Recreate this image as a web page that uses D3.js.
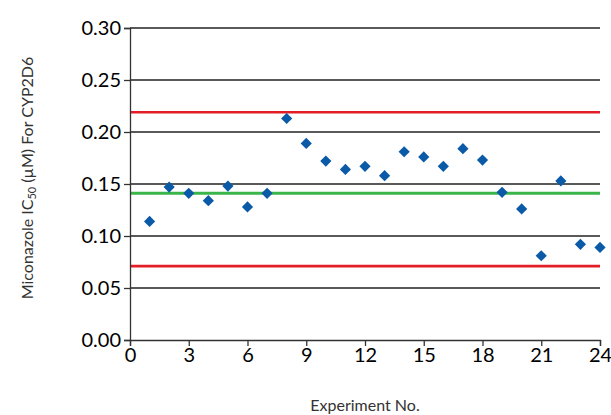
<!DOCTYPE html>
<html><head><meta charset="utf-8">
<script src="https://cdn.jsdelivr.net/npm/d3@7"></script>
<style>body{margin:0;background:#fff}</style>
</head><body>
<svg id="c" width="611" height="415"></svg>
<script>
const experiments = d3.range(1, 25);
const ic50 = [0.114,0.147,0.141,0.134,0.148,0.128,0.141,0.213,0.189,0.172,0.164,0.167,0.158,0.181,0.176,0.167,0.184,0.173,0.142,0.126,0.081,0.153,0.092,0.089];
const upperLimit = 0.219;
const meanLine = 0.141;
const lowerLimit = 0.071;
const yTicks = [0,0.05,0.10,0.15,0.20,0.25,0.30];
const xTicks = [0,3,6,9,12,15,18,21,24];

const svg = d3.select("#c");
const x = d3.scaleLinear().domain([0,24]).range([130,600]);
const y = d3.scaleLinear().domain([0,0.30]).range([340,28]);
const font = "Lato, 'Open Sans', sans-serif";

svg.append("g").selectAll("line").data(yTicks.filter(d=>d>0)).join("line")
  .attr("x1",x(0)).attr("x2",x(24)).attr("y1",d=>y(d)).attr("y2",d=>y(d))
  .attr("stroke","#222").attr("stroke-width",1.3);

const refs = [{v:upperLimit,c:"#e41e26",w:2.6},{v:lowerLimit,c:"#e41e26",w:2.6},{v:meanLine,c:"#3ab54a",w:3}];
svg.append("g").selectAll("line").data(refs).join("line")
  .attr("x1",x(0)).attr("x2",x(24)).attr("y1",d=>y(d.v)).attr("y2",d=>y(d.v))
  .attr("stroke",d=>d.c).attr("stroke-width",d=>d.w);

const yAxis = svg.append("g").attr("transform",`translate(${x(0)},0)`)
  .call(d3.axisLeft(y).tickValues(yTicks).tickFormat(d3.format(".2f")).tickSize(6).tickPadding(3));
const xAxis = svg.append("g").attr("transform",`translate(0,${y(0)})`)
  .call(d3.axisBottom(x).tickValues(xTicks).tickFormat(d3.format("d")).tickSize(6).tickPadding(2));
[yAxis,xAxis].forEach(a=>{
  a.select(".domain").attr("stroke","#333").attr("stroke-width",1.3);
  a.selectAll(".tick line").attr("stroke","#333").attr("stroke-width",1.3);
  a.selectAll("text").attr("font-family",font).attr("font-size",20).attr("fill","#000");
});

const sym = d3.symbol().type(d3.symbolDiamond2).size(80);
svg.append("g").selectAll("path").data(ic50).join("path")
  .attr("d",sym)
  .attr("transform",(d,i)=>`translate(${x(experiments[i])},${y(d)})`)
  .attr("fill","#0b5aa8");

svg.append("text").attr("x",365).attr("y",411).attr("text-anchor","middle")
  .attr("font-family",font).attr("font-size",16).attr("fill","#333").text("Experiment No.");
const yl = svg.append("text").attr("transform","translate(33,178) rotate(-90)")
  .attr("text-anchor","middle").attr("font-family",font).attr("font-size",16).attr("fill","#333");
yl.append("tspan").text("Miconazole IC");
yl.append("tspan").attr("font-size",11).attr("dy",3).text("50");
yl.append("tspan").attr("dy",-3).text(" (µM) For CYP2D6");
</script>
</body></html>
